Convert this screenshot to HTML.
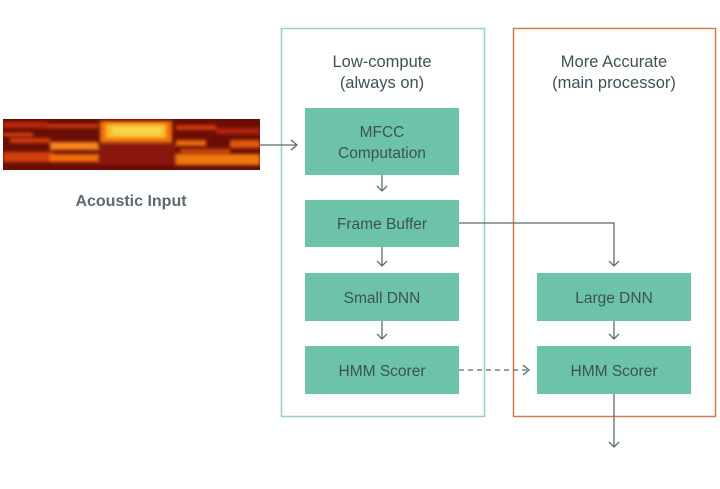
<!DOCTYPE html>
<html><head><meta charset="utf-8"><style>
html,body{margin:0;padding:0;background:#fff;width:720px;height:489px;overflow:hidden}
svg text{font-family:"Liberation Sans",sans-serif;fill:#3e5158}
</style></head><body>
<svg width="720" height="489" viewBox="0 0 720 489" xmlns="http://www.w3.org/2000/svg">
<defs>
<filter id="bl" x="-5%" y="-20%" width="110%" height="140%"><feGaussianBlur stdDeviation="1.5"/></filter>
<clipPath id="sc"><rect x="3" y="119" width="257" height="51"/></clipPath>
</defs>
<g clip-path="url(#sc)">
<rect x="3" y="119" width="257" height="51" fill="#6a0e05"/>
<g filter="url(#bl)">
<rect x="3" y="122" width="45" height="6" fill="#b8280c"/>
<rect x="10" y="138" width="40" height="5" fill="#d03a10"/>
<rect x="3" y="152" width="50" height="10" fill="#d0400c"/>
<rect x="48" y="124" width="50" height="4" fill="#c83a0c"/>
<rect x="50" y="142" width="48" height="8" fill="#f5861a"/>
<rect x="50" y="154" width="48" height="8" fill="#f07010"/>
<rect x="100" y="121" width="72" height="22" fill="#f07010"/>
<rect x="106" y="124" width="60" height="14" fill="#fab828"/>
<rect x="112" y="127" width="50" height="8" fill="#f2d84a"/>
<rect x="98" y="145" width="78" height="20" fill="#8a1408"/>
<rect x="176" y="125" width="40" height="5" fill="#d0380c"/>
<rect x="176" y="140" width="30" height="6" fill="#e86a10"/>
<rect x="176" y="154" width="84" height="11" fill="#f07810"/>
<rect x="180" y="149" width="50" height="4" fill="#d04a10"/>
<rect x="216" y="128" width="44" height="6" fill="#b02408"/>
<rect x="230" y="140" width="30" height="8" fill="#e0560e"/>
<rect x="3" y="133" width="30" height="3" fill="#e84e10"/>
</g>
</g>
<text x="131" y="206" font-size="16" text-anchor="middle" font-weight="bold" style="fill:#5b6a70">Acoustic Input</text>
<rect x="281.5" y="28.5" width="203" height="388" fill="none" stroke="#8fd3c4" stroke-width="1.5"/>
<rect x="513.5" y="28.5" width="202" height="388" fill="none" stroke="#d57a4a" stroke-width="1.5"/>
<g font-size="16.5" text-anchor="middle">
<text x="382" y="67">Low-compute</text>
<text x="382" y="88">(always on)</text>
<text x="614" y="67">More Accurate</text>
<text x="614" y="88">(main processor)</text>
</g>
<g fill="#6cc3aa">
<rect x="305" y="108" width="154" height="67"/>
<rect x="305" y="200" width="154" height="47"/>
<rect x="305" y="273" width="154" height="48"/>
<rect x="305" y="346" width="154" height="48"/>
<rect x="537" y="273" width="154" height="48"/>
<rect x="537" y="346" width="154" height="48"/>
</g>
<g font-size="15.5" text-anchor="middle">
<text x="382" y="137">MFCC</text>
<text x="382" y="158">Computation</text>
<text x="382" y="229">Frame Buffer</text>
<text x="382" y="303">Small DNN</text>
<text x="382" y="376">HMM Scorer</text>
<text x="614" y="303">Large DNN</text>
<text x="614" y="376">HMM Scorer</text>
</g>
<g stroke="#5b6b72" stroke-width="1.3" fill="none">
<path d="M260 145 H296"/><path d="M291 140 L297 145 L291 150"/>
<path d="M382 175 V191"/><path d="M377 186 L382 191 L387 186"/>
<path d="M382 247 V266"/><path d="M377 261 L382 266 L387 261"/>
<path d="M382 321 V339"/><path d="M377 334 L382 339 L387 334"/>
<path d="M459 223 H614 V266"/><path d="M609 261 L614 266 L619 261"/>
<path d="M614 321 V339"/><path d="M609 334 L614 339 L619 334"/>
<path d="M614 394 V447"/><path d="M609 442 L614 447 L619 442"/>
<path d="M459 370 H528" stroke-dasharray="5 4"/><path d="M523 365 L529 370 L523 375"/>
</g>
</svg>
</body></html>
